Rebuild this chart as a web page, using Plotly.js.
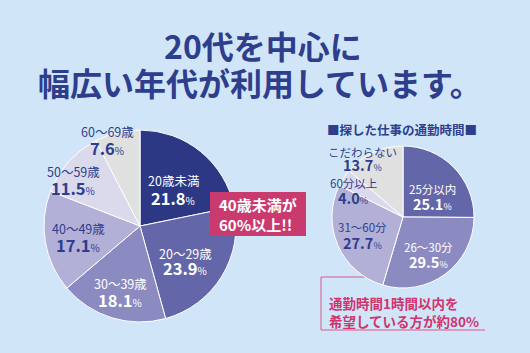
<!DOCTYPE html>
<html><head><meta charset="utf-8">
<script src="https://cdn.plot.ly/plotly-3.0.1.min.js"></script>
<style>html,body{margin:0;padding:0;background:#d0e6f8;}</style>
</head><body>
<div id="chart" style="width:530px;height:353px;"></div>
<script>
// ---- data ----
const ageLabels = ["20歳未満", "20〜29歳", "30〜39歳", "40〜49歳", "50〜59歳", "60〜69歳"];
const ageValues = [21.8, 23.9, 18.1, 17.1, 11.5, 7.6];
const commuteLabels = ["25分以内", "26〜30分", "31〜60分", "60分以上", "こだわらない"];
const commuteValues = [25.1, 29.5, 27.7, 4.0, 13.7];
const titleLines = ["20代を中心に", "幅広い年代が利用しています。"];
const commuteHeading = "■探した仕事の通勤時間■";
const ageCallout = ["40歳未満が", "60%以上!!"];
const commuteCallout = ["通勤時間1時間以内を", "希望している方が約80%"];

// ---- styles ----
const W = 530, H = 353;
const FONT = "Noto Sans CJK JP, Noto Sans, sans-serif";
const NAVY = "#2e3d8c";
const PINK = "#c93a6f";
const ageColors = ["#2c3883", "#6366a9", "#8b8bc1", "#b2b0d7", "#dbd9ec", "#e0e0e0"];
const commuteColors = ["#6366a9", "#8b8bc1", "#b2b0d7", "#dbd9ec", "#e0e0e0"];
const ageTextColors = ["#fff", "#fff", "#fff", NAVY, NAVY, NAVY];
const commuteTextColors = ["#fff", "#fff", NAVY, NAVY, NAVY];
// label placement: [x center, category line y, value line y] in pixels
const ageLabelPos = [[173,181,198],[185,253,268],[120,283,300],[78,228,245],[73,172,188],[107,132,148]];
const commuteLabelPos = [[432,189,203],[428,247,261],[362,227,242],[353,183,197],[362,152,165]];
const X = px => px / W;
const Y = py => 1 - py / H;

function pieTrace(labels, values, colors, cx, cy, r) {
  return {
    type: "pie", labels: labels, values: values, sort: false,
    direction: "clockwise", rotation: 0,
    marker: {colors: colors, line: {color: "#ffffff", width: 1}},
    textinfo: "none", hoverinfo: "none", showlegend: false,
    domain: {x: [X(cx - r), X(cx + r)], y: [Y(cy + r), Y(cy - r)]}
  };
}

const data = [
  pieTrace(ageLabels, ageValues, ageColors, 140, 226, 96),
  pieTrace(commuteLabels, commuteValues, commuteColors, 403, 217, 71)
];

function sliceLabel(label, val, pos, color, catSize, valSize) {
  return [{
    xref: "paper", yref: "paper", x: X(pos[0]), y: Y(pos[1]),
    xanchor: "center", yanchor: "middle", showarrow: false,
    font: {family: FONT, size: catSize, color: color}, text: label
  }, {
    xref: "paper", yref: "paper", x: X(pos[0]), y: Y(pos[2]),
    xanchor: "center", yanchor: "middle", showarrow: false,
    font: {family: FONT, size: valSize, color: color},
    text: "<b>" + val.toFixed(1) + "</b><span style='font-size:" + Math.round(valSize * 0.6) + "px'>%</span>"
  }];
}

const annotations = [];
ageLabels.forEach((l, i) => annotations.push(...sliceLabel(l, ageValues[i], ageLabelPos[i], ageTextColors[i], 12.5, 16.5)));
commuteLabels.forEach((l, i) => annotations.push(...sliceLabel(l, commuteValues[i], commuteLabelPos[i], commuteTextColors[i], 11.5, 14.5)));

// titles
annotations.push({xref:"paper", yref:"paper", x: X(263), y: Y(45), xanchor:"center", yanchor:"middle",
  showarrow:false, text:"<b>" + titleLines[0] + "</b>", font:{family:FONT, size:32, weight:900, color:NAVY}});
annotations.push({xref:"paper", yref:"paper", x: X(260), y: Y(82), xanchor:"center", yanchor:"middle",
  showarrow:false, text:"<b>" + titleLines[1] + "</b>", font:{family:FONT, size:32, weight:900, color:NAVY}});
annotations.push({xref:"paper", yref:"paper", x: X(402), y: Y(129), xanchor:"center", yanchor:"middle",
  showarrow:false, text:"<b>" + commuteHeading + "</b>", font:{family:FONT, size:12.5, color:NAVY}});
// callouts
annotations.push({xref:"paper", yref:"paper", x: X(258), y: Y(214), xanchor:"center", yanchor:"middle",
  showarrow:false, align:"left", text:"<b>" + ageCallout.join("<br>") + "</b>",
  font:{family:FONT, size:15, color:"#ffffff"}});
annotations.push({xref:"paper", yref:"paper", x: X(327), y: Y(312), xanchor:"left", yanchor:"middle",
  showarrow:false, align:"left", text:"<b>" + commuteCallout.join("<br>") + "</b>",
  font:{family:FONT, size:13.5, color:"#d0336e"}});

const shapes = [
  {type:"rect", xref:"paper", yref:"paper", x0:X(210), x1:X(306), y0:Y(236), y1:Y(192),
   fillcolor:PINK, line:{width:0}, layer:"above"},
  {type:"line", xref:"paper", yref:"paper", x0:X(321), x1:X(366), y0:Y(277), y1:Y(277),
   line:{color:"#d9568c", width:1}, layer:"below"},
  {type:"line", xref:"paper", yref:"paper", x0:X(321), x1:X(321), y0:Y(277), y1:Y(330),
   line:{color:"#d9568c", width:1}, layer:"below"},
  {type:"line", xref:"paper", yref:"paper", x0:X(321), x1:X(485), y0:Y(330), y1:Y(330),
   line:{color:"#d9568c", width:1}, layer:"below"}
];

const layout = {
  width: W, height: H, margin: {l:0, r:0, t:0, b:0},
  paper_bgcolor: "#d0e6f8", plot_bgcolor: "#d0e6f8",
  font: {family: FONT}, showlegend: false,
  annotations: annotations, shapes: shapes
};
Plotly.newPlot("chart", data, layout, {staticPlot: true, displayModeBar: false});
</script>
</body></html>
